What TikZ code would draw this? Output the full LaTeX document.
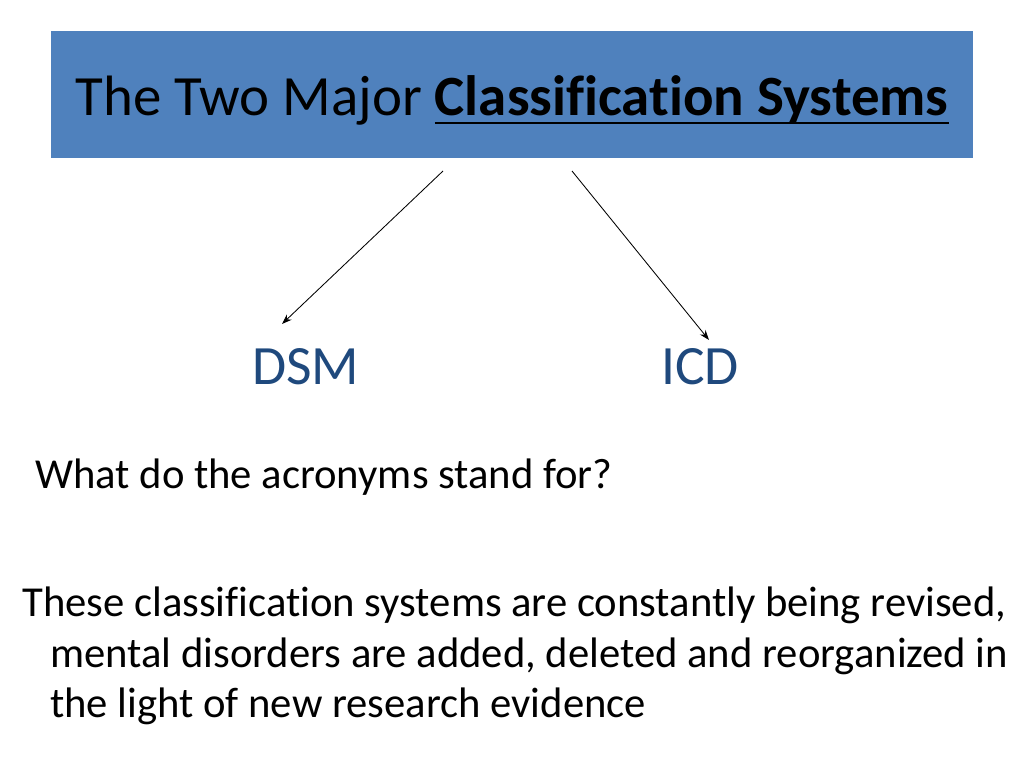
\documentclass[tikz,border=0pt]{standalone}
\usepackage{fontspec}
\setmainfont{Carlito}[Ligatures=NoCommon]
\usetikzlibrary{arrows.meta}
\definecolor{boxblue}{HTML}{4F81BD}
\definecolor{acroblue}{HTML}{1F497D}
\newcommand{\heavyul}[1]{\setbox0\hbox{#1}\rlap{\rule[-6.5pt]{\wd0}{1.8pt}}\box0}
\tikzset{
	px/.style={x=0.703pt,y=-0.703pt},
	acro/.style={anchor=base west,inner sep=0pt,text=acroblue,font=\fontsize{39}{47}\selectfont},
	body/.style={anchor=base west,inner sep=0pt,font=\fontsize{30}{36}\selectfont},
	pointer/.style={-{Stealth[length=7pt,width=5pt]},line width=0.6pt}
}
\begin{document}
\begin{tikzpicture}[px]
	\useasboundingbox (0,0) rectangle (1024,768);
	\fill[boxblue] (51,31) rectangle (973,158);
	\node[anchor=base,inner sep=0pt,font=\fontsize{40}{48}\selectfont] (title) at (512,115) {The Two Major \heavyul{\textbf{Classification Systems}}};
	\node[acro] (dsm) at (252,384) {DSM};
	\node[acro] (icd) at (661,384) {ICD};
	\coordinate (fromL) at (443,171);
	\coordinate (fromR) at (572,171);
	\coordinate (toL) at (282,324);
	\coordinate (toR) at (709,340);
	\draw[pointer] (fromL) -- (toL);
	\draw[pointer] (fromR) -- (toR);
	\node[body] (question) at (35,488) {What do the acronyms stand for?};
	\node[anchor=north west,inner sep=0pt] (note) at (22,587)
		{\parbox[t]{1000\dimexpr0.703pt\relax}{\fontsize{30}{35.5}\selectfont\raggedright
		\hangindent=28\dimexpr0.703pt\relax\hangafter=1 These classification systems are constantly being revised,\newline mental disorders are added, deleted and reorganized in\newline the light of new research evidence}};
\end{tikzpicture}
\end{document}
